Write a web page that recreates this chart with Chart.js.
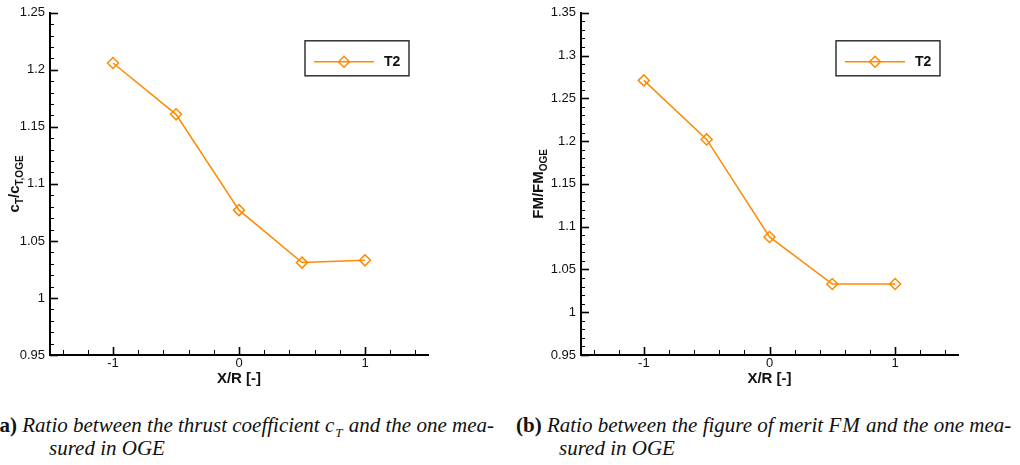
<!DOCTYPE html>
<html>
<head>
<meta charset="utf-8">
<script src="https://cdn.jsdelivr.net/npm/chart.js@4.4.0/dist/chart.umd.min.js"></script>
<style>
  html, body { margin: 0; padding: 0; background: #fff; }
  #wrap { position: relative; width: 1020px; height: 465px; overflow: hidden; }
  canvas { position: absolute; top: 0; }
  .cap { position: absolute; white-space: nowrap; font-family: "Liberation Serif", "Times New Roman", serif;
         font-size: 21px; line-height: 20px; font-style: italic; color: #111; }
  .cap b { font-style: normal; }
  .math { letter-spacing: 1px; }
</style>
</head>
<body>
<div id="wrap">
  <canvas id="ctChart" width="510" height="395" style="left:0"></canvas>
  <canvas id="fmChart" width="510" height="395" style="left:510px"></canvas>

  <div class="cap" style="right:526px; top:415px"><b>(a)</b> Ratio between the thrust coefficient <span class="math">c<sub style="font-size:13px">T</sub></span> and the one mea-</div>
  <div class="cap" style="left:49px; top:438px">sured in OGE</div>
  <div class="cap" style="left:516px; top:415px"><b>(b)</b> Ratio between the figure of merit <span class="math">FM</span> and the one mea-</div>
  <div class="cap" style="left:559px; top:438px">sured in OGE</div>
</div>

<script>
// data
const xPos = [-1, -0.5, 0, 0.5, 1];
const ctRatio = [1.206, 1.161, 1.077, 1.031, 1.033];
const fmRatio = [1.271, 1.202, 1.088, 1.033, 1.033];
const seriesName = "T2";

const xTicks = [-1, 0, 1];
const ctTicks = [0.95, 1, 1.05, 1.1, 1.15, 1.2, 1.25];
const fmTicks = [0.95, 1, 1.05, 1.1, 1.15, 1.2, 1.25, 1.3, 1.35];

const ORANGE = "#ff8a00";
const SANS = "'Liberation Sans', Arial, Helvetica, sans-serif";

// tecplot style inward ticks, axis titles with subscripts, boxed legend
const tecplot = {
  id: "tecplot",
  afterDraw(chart, args, o) {
    const ctx = chart.ctx, a = chart.chartArea;
    const xs = chart.scales.x, ys = chart.scales.y;
    ctx.save();
    ctx.strokeStyle = "#000";

    // y ticks
    for (let i = 0; ; i++) {
      const v = +(ys.min + i * 0.01).toFixed(3);
      if (v > ys.max + 1e-9) break;
      const major = o.yTicks.some(t => Math.abs(t - v) < 1e-6);
      const py = Math.round(ys.getPixelForValue(v)) + 0.5;
      ctx.lineWidth = major ? 1.6 : 1;
      ctx.beginPath();
      ctx.moveTo(a.left, py);
      ctx.lineTo(a.left + (major ? 8 : 4), py);
      ctx.stroke();
    }
    // x ticks
    for (let i = 0; ; i++) {
      const v = +(-1.4 + i * 0.2).toFixed(3);
      if (v > xs.max) break;
      const major = xTicks.some(t => Math.abs(t - v) < 1e-6);
      const px = Math.round(xs.getPixelForValue(v)) + 0.5;
      ctx.lineWidth = major ? 1.6 : 1;
      ctx.beginPath();
      ctx.moveTo(px, a.bottom);
      ctx.lineTo(px, a.bottom - (major ? 8 : 5));
      ctx.stroke();
    }

    // x title
    ctx.fillStyle = "#111";
    ctx.font = "bold 15px " + SANS;
    ctx.textAlign = "center";
    ctx.textBaseline = "middle";
    ctx.fillText("X/R [-]", (a.left + a.right) / 2, 379);

    // y title, rotated, with subscripts
    const mainFont = "bold 15px " + SANS, subFont = "bold 10px " + SANS;
    let total = 0;
    o.yTitle.forEach(p => { ctx.font = p.sub ? subFont : mainFont; total += ctx.measureText(p.t).width; });
    ctx.translate(o.yTitleX, (a.top + a.bottom) / 2);
    ctx.rotate(-Math.PI / 2);
    ctx.textAlign = "left";
    ctx.textBaseline = "alphabetic";
    let cx = -total / 2;
    o.yTitle.forEach(p => {
      ctx.font = p.sub ? subFont : mainFont;
      ctx.fillText(p.t, cx, p.sub ? 4 : 0);
      cx += ctx.measureText(p.t).width;
    });
    ctx.restore();

    // legend
    const ds = chart.data.datasets[0];
    const bx = a.left + 255, by = a.top + 28, bw = 104, bh = 35;
    ctx.save();
    ctx.strokeStyle = "#333";
    ctx.lineWidth = 1.5;
    ctx.strokeRect(bx, by, bw, bh);
    const ly = by + 21;
    ctx.strokeStyle = ds.borderColor;
    ctx.lineWidth = 1.5;
    ctx.beginPath();
    ctx.moveTo(bx + 9, ly);
    ctx.lineTo(bx + 69, ly);
    ctx.stroke();
    const r = 5.5, mx = bx + 39;
    ctx.beginPath();
    ctx.moveTo(mx - r, ly); ctx.lineTo(mx, ly - r); ctx.lineTo(mx + r, ly); ctx.lineTo(mx, ly + r);
    ctx.closePath();
    ctx.stroke();
    ctx.fillStyle = "#111";
    ctx.font = "bold 14px " + SANS;
    ctx.textBaseline = "middle";
    ctx.fillText(ds.label, bx + 79, ly);
    ctx.restore();
  }
};

function makeChart(id, values, yTicks, yMax, areaLeft, padRight, yTitle, yTitleX) {
  return new Chart(document.getElementById(id), {
    type: "line",
    data: {
      datasets: [{
        label: seriesName,
        data: xPos.map((x, i) => ({ x: x, y: values[i] })),
        borderColor: ORANGE,
        borderWidth: 1.5,
        backgroundColor: "transparent",
        pointStyle: "rectRot",
        pointRadius: 5.5,
        pointBorderWidth: 1.5,
        pointBorderColor: ORANGE,
        pointBackgroundColor: "transparent",
        tension: 0
      }]
    },
    options: {
      responsive: false,
      animation: false,
      devicePixelRatio: 1,
      layout: { padding: { left: 0, top: 11, right: padRight, bottom: 0 } },
      plugins: {
        legend: { display: false },
        tooltip: { enabled: false },
        tecplot: { yTicks: yTicks, yTitle: yTitle, yTitleX: yTitleX }
      },
      scales: {
        x: {
          type: "linear", min: -1.5, max: 1.5,
          afterBuildTicks: s => { s.ticks = xTicks.map(v => ({ value: v })); },
          afterFit: s => { s.height = 40; },
          grid: { display: false, drawTicks: false },
          border: { display: true, color: "#000", width: 2 },
          ticks: { color: "#111", font: { family: SANS, size: 13 }, padding: 1, maxRotation: 0, autoSkip: false }
        },
        y: {
          type: "linear", min: 0.95, max: yMax,
          afterBuildTicks: s => { s.ticks = yTicks.map(v => ({ value: v })); },
          afterFit: s => { s.width = areaLeft; },
          grid: { display: false, drawTicks: false },
          border: { display: true, color: "#000", width: 2 },
          ticks: { color: "#111", font: { family: SANS, size: 13 }, padding: 5, autoSkip: false,
                   callback: v => String(+v.toFixed(2)) }
        }
      }
    },
    plugins: [tecplot]
  });
}

makeChart("ctChart", ctRatio, ctTicks, 1.25, 50, 82,
  [{ t: "c" }, { t: "T", sub: true }, { t: "/c" }, { t: "T,OGE", sub: true }], 19);
makeChart("fmChart", fmRatio, fmTicks, 1.35, 71, 62,
  [{ t: "FM/FM" }, { t: "OGE", sub: true }], 33);
</script>
</body>
</html>
